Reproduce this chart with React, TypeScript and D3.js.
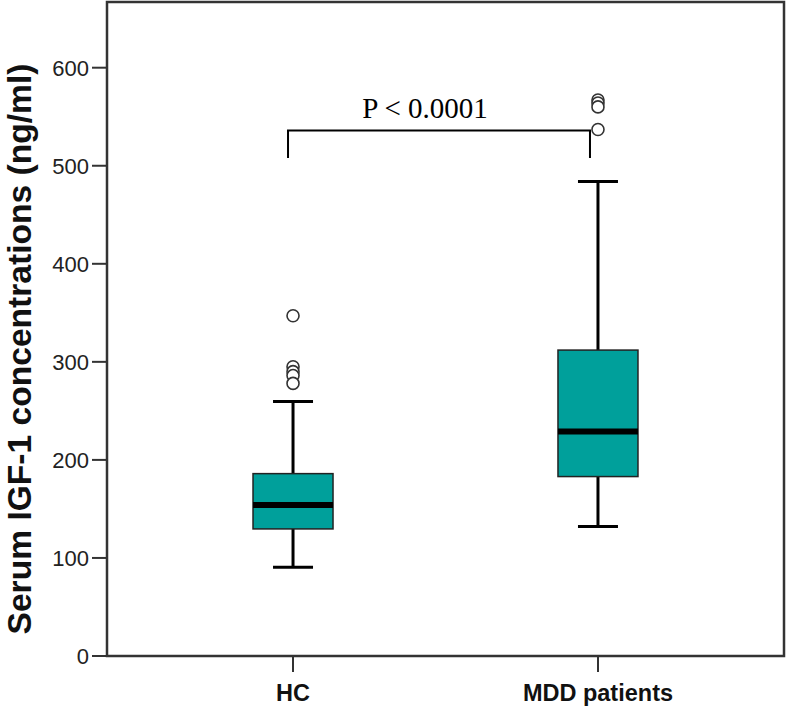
import React from "react";
import * as d3 from "d3";

const categories = ["HC", "MDD patients"];
const whiskerLow = [90.5, 132];
const q1 = [129.6, 183];
const medians = [154, 229];
const q3 = [186, 312];
const whiskerHigh = [259.5, 484];
const outliersHC = [347, 295, 290, 286, 278];
const outliersMDD = [567, 564, 560, 537];
const outliers = [outliersHC, outliersMDD];
const yTicks = [0, 100, 200, 300, 400, 500, 600];
const bracketValues = [536, 508];
const pLabel = "P < 0.0001";
const yLabel = "Serum IGF-1 concentrations (ng/ml)";

const W = 787;
const H = 714;
const left = 107, right = 784, top = 2, bottom = 656;

export default function App() {
  const x = d3.scalePoint<string>().domain(categories).range([left, right]).padding(0.61);
  const y = d3.scaleLinear().domain([0, 667]).range([bottom, top]);
  const boxW = 80;
  const capW = 40;
  const teal = "#00A09B";
  const bx0 = x(categories[0])! - 5;
  const bx1 = x(categories[1])! - 8;
  return (
    <svg width={W} height={H} style={{ position: "absolute", left: 0, top: 0, background: "#fff" }}>
      <rect x={0} y={0} width={W} height={H} fill="#fff" />
      {/* y label */}
      <text
        transform={`translate(31, ${349}) rotate(-90)`}
        textAnchor="middle"
        fontFamily="Liberation Sans, Arial, sans-serif"
        fontWeight="bold"
        fontSize={33.6}
        fill="#111"
      >
        {yLabel}
      </text>
      {/* y ticks */}
      {yTicks.map((t) => (
        <g key={t}>
          <line x1={92} x2={left} y1={y(t)} y2={y(t)} stroke="#333" strokeWidth={2} />
          <text
            x={89}
            y={y(t)}
            dy="0.36em"
            textAnchor="end"
            fontFamily="Liberation Sans, Arial, sans-serif"
            fontSize={22}
            fill="#222"
          >
            {t}
          </text>
        </g>
      ))}
      {/* x ticks */}
      {categories.map((c) => (
        <g key={c}>
          <line x1={x(c)} x2={x(c)} y1={bottom} y2={672} stroke="#333" strokeWidth={2} />
          <text
            x={x(c)}
            y={701}
            textAnchor="middle"
            fontFamily="Liberation Sans, Arial, sans-serif"
            fontWeight="bold"
            fontSize={23.5}
            fill="#111"
          >
            {c}
          </text>
        </g>
      ))}
      {/* boxes */}
      {categories.map((c, i) => {
        const cx = x(c)!;
        return (
          <g key={c}>
            <line x1={cx} x2={cx} y1={y(whiskerLow[i])} y2={y(q1[i])} stroke="#000" strokeWidth={3} />
            <line x1={cx} x2={cx} y1={y(q3[i])} y2={y(whiskerHigh[i])} stroke="#000" strokeWidth={3} />
            <line x1={cx - capW / 2} x2={cx + capW / 2} y1={y(whiskerLow[i])} y2={y(whiskerLow[i])} stroke="#000" strokeWidth={3} />
            <line x1={cx - capW / 2} x2={cx + capW / 2} y1={y(whiskerHigh[i])} y2={y(whiskerHigh[i])} stroke="#000" strokeWidth={3} />
            <rect
              x={cx - boxW / 2}
              y={y(q3[i])}
              width={boxW}
              height={y(q1[i]) - y(q3[i])}
              fill={teal}
              stroke="#222"
              strokeWidth={1.5}
            />
            <line x1={cx - boxW / 2} x2={cx + boxW / 2} y1={y(medians[i])} y2={y(medians[i])} stroke="#000" strokeWidth={6} />
            {outliers[i].map((o, j) => (
              <circle key={j} cx={cx} cy={y(o)} r={6} fill="#fff" stroke="#333" strokeWidth={1.6} />
            ))}
          </g>
        );
      })}
      {/* bracket */}
      <path
        d={`M${bx0},${y(bracketValues[1])}V${y(bracketValues[0])}H${bx1}V${y(bracketValues[1])}`}
        fill="none"
        stroke="#000"
        strokeWidth={2}
      />
      <text
        x={(bx0 + bx1) / 2 - 14}
        y={118}
        textAnchor="middle"
        fontFamily="Liberation Serif, Times New Roman, serif"
        fontSize={29}
        fill="#000"
      >
        {pLabel}
      </text>
      {/* frame */}
      <rect x={left} y={top} width={right - left} height={bottom - top} fill="none" stroke="#333" strokeWidth={2.5} />
    </svg>
  );
}
